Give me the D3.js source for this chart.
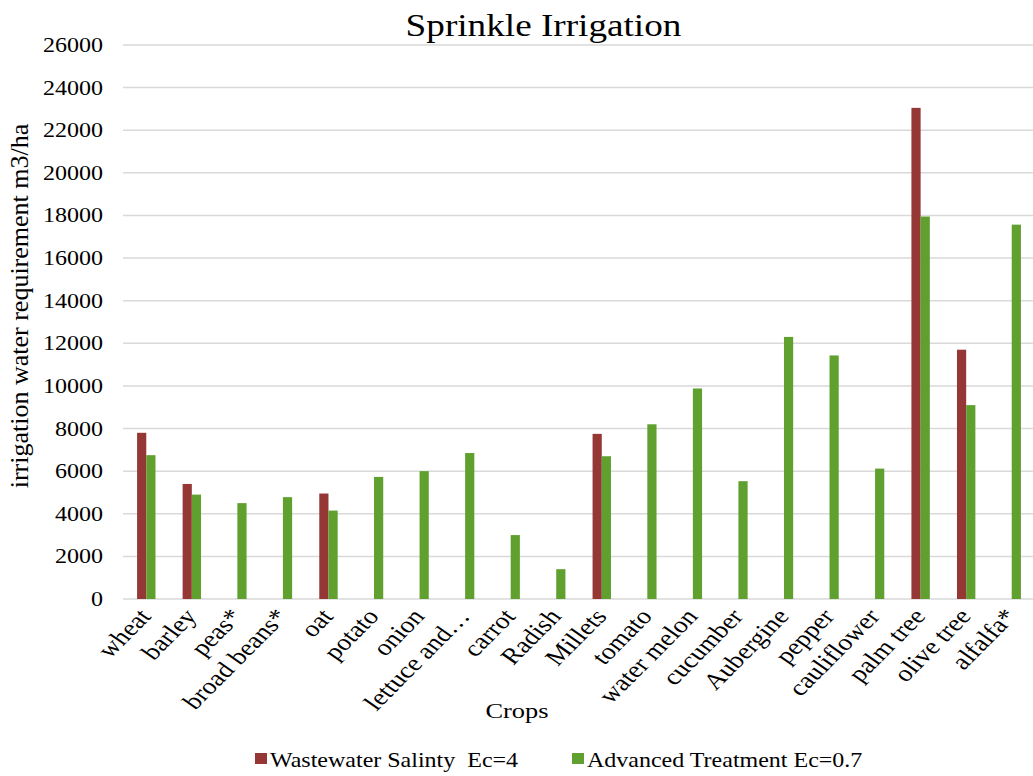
<!DOCTYPE html>
<html>
<head>
<meta charset="utf-8">
<script src="https://cdn.jsdelivr.net/npm/d3@7"></script>
<style>
  html, body { margin: 0; padding: 0; background: #fff; }
  svg { display: block; }
</style>
</head>
<body>
<svg id="chart" width="1033" height="776"></svg>
<script>
// Crop categories (x axis)
const crops = ["wheat", "barley", "peas*", "broad beans*", "oat", "potato", "onion",
  "lettuce and\u2026", "carrot", "Radish", "Millets", "tomato", "water melon", "cucumber",
  "Aubergine", "pepper", "cauliflower", "palm tree", "olive tree", "alfalfa*"];

// Irrigation water requirement (m3/ha); null = no bar
const wastewaterSalinity = [7800, 5400, null, null, 4950, null, null, null, null, null,
  7750, null, null, null, null, null, null, 23050, 11700, null];
const advancedTreatment = [6750, 4900, 4500, 4780, 4150, 5730, 6000, 6850, 3000, 1400,
  6700, 8200, 9880, 5530, 12300, 11430, 6120, 17950, 9100, 17570];

const seriesNames = ["Wastewater Salinty\u00a0\u00a0Ec=4", "Advanced Treatment Ec=0.7"];
const seriesColors = ["#953735", "#5fa02f"];
const yTicks = [0, 2000, 4000, 6000, 8000, 10000, 12000, 14000, 16000, 18000, 20000,
  22000, 24000, 26000];

const SX = 1.2; // horizontal widening of the lettering
const FONT = "'Liberation Serif', 'Times New Roman', serif";

const svg = d3.select("#chart");

const x = d3.scaleBand().domain(crops).range([123.5, 1034.5]).paddingInner(0).paddingOuter(0);
const groupW = 18.4;
const y = d3.scaleLinear().domain([0, 26000]).range([599, 45]);

// gridlines
svg.append("g").selectAll("line").data(yTicks).join("line")
  .attr("x1", 123).attr("x2", 1033)
  .attr("y1", d => y(d)).attr("y2", d => y(d))
  .attr("stroke", "#d9d9d9").attr("stroke-width", 1.5);

// y tick labels
svg.append("g").selectAll("text").data(yTicks).join("text")
  .attr("transform", d => `translate(103,${y(d)}) scale(${SX},1)`)
  .attr("text-anchor", "end").attr("dy", "0.35em")
  .attr("font-family", FONT).attr("font-size", 20)
  .text(d => d);

// bars, one group per series
const series = [wastewaterSalinity, advancedTreatment];
const barW = groupW / 2;
series.forEach((vals, si) => {
  svg.append("g").selectAll("rect")
    .data(crops.map((c, i) => ({ c, v: vals[i] })).filter(d => d.v != null))
    .join("rect")
    .attr("x", d => x(d.c) + x.step() / 2 - groupW / 2 + si * barW)
    .attr("width", barW)
    .attr("y", d => y(d.v))
    .attr("height", d => y(0) - y(d.v))
    .attr("fill", seriesColors[si]);
});

// x labels, rotated to 45 degrees
const ang = Math.atan(SX) * 180 / Math.PI;
svg.append("g").selectAll("text").data(crops).join("text")
  .attr("transform", d => `translate(${x(d) + x.step() / 2 + 6},617) scale(${SX},1) rotate(${-ang})`)
  .attr("text-anchor", "end")
  .attr("font-family", FONT).attr("font-size", 23)
  .text(d => d);

// title
svg.append("text")
  .attr("transform", `translate(543.5,36) scale(${SX},1)`)
  .attr("text-anchor", "middle").attr("font-family", FONT).attr("font-size", 31)
  .text("Sprinkle Irrigation");

// axis titles
svg.append("text")
  .attr("transform", `translate(517,718) scale(${SX},1)`)
  .attr("text-anchor", "middle").attr("font-family", FONT).attr("font-size", 22)
  .text("Crops");

svg.append("text")
  .attr("transform", `translate(28,306) rotate(-90)`)
  .attr("text-anchor", "middle").attr("font-family", FONT).attr("font-size", 26)
  .text("irrigation water requirement m3/ha");

// legend
const legendX = [255, 572];
const lg = svg.append("g").selectAll("g").data(seriesNames).join("g")
  .attr("transform", (d, i) => `translate(${legendX[i]},0)`);
lg.append("rect").attr("x", 0).attr("y", 753).attr("width", 12).attr("height", 11)
  .attr("fill", (d, i) => seriesColors[i]);
lg.append("text")
  .attr("transform", `translate(15,767) scale(${SX},1)`)
  .attr("font-family", FONT).attr("font-size", 20)
  .text(d => d);
</script>
</body>
</html>
